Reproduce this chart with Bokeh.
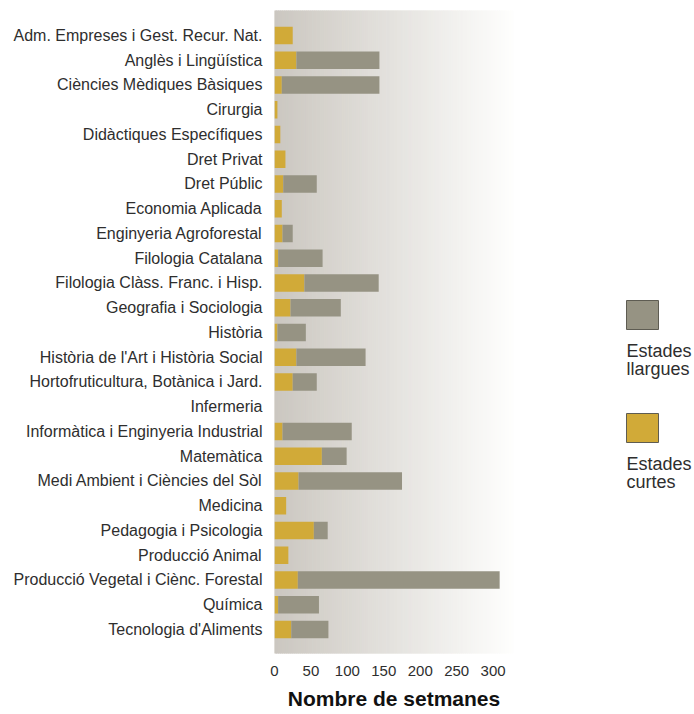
import numpy as np
from bokeh.plotting import figure
from bokeh.layouts import row
from bokeh.models import ColumnDataSource, Range1d, FixedTicker
from bokeh.core.properties import value
from bokeh.embed import file_html
from bokeh.resources import INLINE

departments = [
    "Adm. Empreses i Gest. Recur. Nat.",
    "Anglès i Lingüística",
    "Ciències Mèdiques Bàsiques",
    "Cirurgia",
    "Didàctiques Específiques",
    "Dret Privat",
    "Dret Públic",
    "Economia Aplicada",
    "Enginyeria Agroforestal",
    "Filologia Catalana",
    "Filologia Clàss. Franc. i Hisp.",
    "Geografia i Sociologia",
    "Història",
    "Història de l'Art i Història Social",
    "Hortofruticultura, Botànica i Jard.",
    "Infermeria",
    "Informàtica i Enginyeria Industrial",
    "Matemàtica",
    "Medi Ambient i Ciències del Sòl",
    "Medicina",
    "Pedagogia i Psicologia",
    "Producció Animal",
    "Producció Vegetal i Ciènc. Forestal",
    "Química",
    "Tecnologia d'Aliments",
]

short_stays = [25, 30, 10, 4, 8, 15, 12, 10, 11, 5, 41, 22, 4, 30, 25, 0, 11, 65, 33, 16, 54, 19, 32, 5, 23]
long_stays = [0, 114, 134, 0, 0, 0, 46, 0, 14, 61, 102, 69, 39, 95, 33, 0, 95, 34, 142, 0, 19, 0, 277, 56, 51]

x_ticks = [0, 50, 100, 150, 200, 250, 300]
legend_names = ["Estades\nllargues", "Estades\ncurtes"]

YELLOW = "#d1aa38"
GREY = "#969383"
TEXT = "#2e2e2e"
FONT = "Liberation Sans"

n = len(departments)
src = ColumnDataSource(dict(y=list(range(n)), short=short_stays, long=long_stays))

x_max = 328
y_lo, y_hi = -1.01, n - 1 + 0.97

p = figure(
    frame_width=239, frame_height=643,
    x_range=Range1d(0, x_max), y_range=Range1d(y_hi, y_lo),
    min_border_left=274, min_border_right=10, min_border_top=10, min_border_bottom=61,
    output_backend="svg", toolbar_location=None,
)
p.outline_line_color = None
p.grid.visible = False
p.background_fill_color = "white"
p.border_fill_color = "white"

# background gradient strips
steps = 120
edges = np.linspace(0, x_max, steps + 1)
c0 = np.array([203, 199, 192])
c1 = np.array([254, 254, 253])
cols = []
for i in range(steps):
    t = i / (steps - 1)
    c = (c0 + (c1 - c0) * t).round().astype(int)
    cols.append("#%02x%02x%02x" % tuple(c))
p.quad(left=edges[:-1], right=edges[1:], bottom=y_lo, top=y_hi,
       fill_color=cols, line_color=cols, line_width=1)

p.hbar_stack(["short", "long"], y="y", height=0.715, color=[YELLOW, GREY], line_color=None, source=src)

# axes
for ax in (p.xaxis, p.yaxis):
    ax.axis_line_color = None
    ax.major_tick_line_color = None
    ax.minor_tick_line_color = None
    ax.major_tick_out = 0
    ax.major_tick_in = 0
    ax.minor_tick_out = 0
    ax.major_label_text_font = FONT
    ax.major_label_text_color = TEXT

p.yaxis.ticker = FixedTicker(ticks=list(range(n)))
p.yaxis.major_label_overrides = {i: d for i, d in enumerate(departments)}
p.yaxis.major_label_standoff = 12
p.yaxis.major_label_text_font_size = "16px"

p.xaxis.ticker = FixedTicker(ticks=x_ticks)
p.xaxis.major_label_standoff = 12
p.xaxis.major_label_text_font_size = "15px"
p.xaxis.axis_label = "Nombre de setmanes"
p.xaxis.axis_label_text_font = FONT
p.xaxis.axis_label_text_font_style = "bold"
p.xaxis.axis_label_text_font_size = "21px"
p.xaxis.axis_label_text_color = "#111111"
p.xaxis.axis_label_standoff = 8

# legend panel (label under swatch)
leg_w, leg_h = 171, 714
leg = figure(
    frame_width=leg_w, frame_height=leg_h,
    x_range=Range1d(0, leg_w), y_range=Range1d(leg_h, 0),
    min_border=0, x_axis_location=None, y_axis_location=None,
    title_location=None,
    output_backend="svg", toolbar_location=None,
)
leg.outline_line_color = None
leg.grid.visible = False
leg.background_fill_color = "white"
leg.border_fill_color = "white"

sw_x, sw_w, sw_h = 103, 32, 29
sw_tops = [290, 403]
for name, color, top in zip(legend_names, [GREY, YELLOW], sw_tops):
    leg.quad(left=sw_x, right=sw_x + sw_w, top=top, bottom=top + sw_h,
             fill_color=color, line_color="#5e5c52", line_width=1)
    for k, line in enumerate(name.split("\n")):
        leg.text(x=[sw_x], y=[top + 50 + 18 * k], text=[line],
                 text_font=value(FONT), text_font_size="18px", text_color=TEXT,
                 text_baseline="alphabetic", text_align="left")

layout = row(p, leg, spacing=0)
open("out.html", "w").write(file_html(layout, INLINE))
